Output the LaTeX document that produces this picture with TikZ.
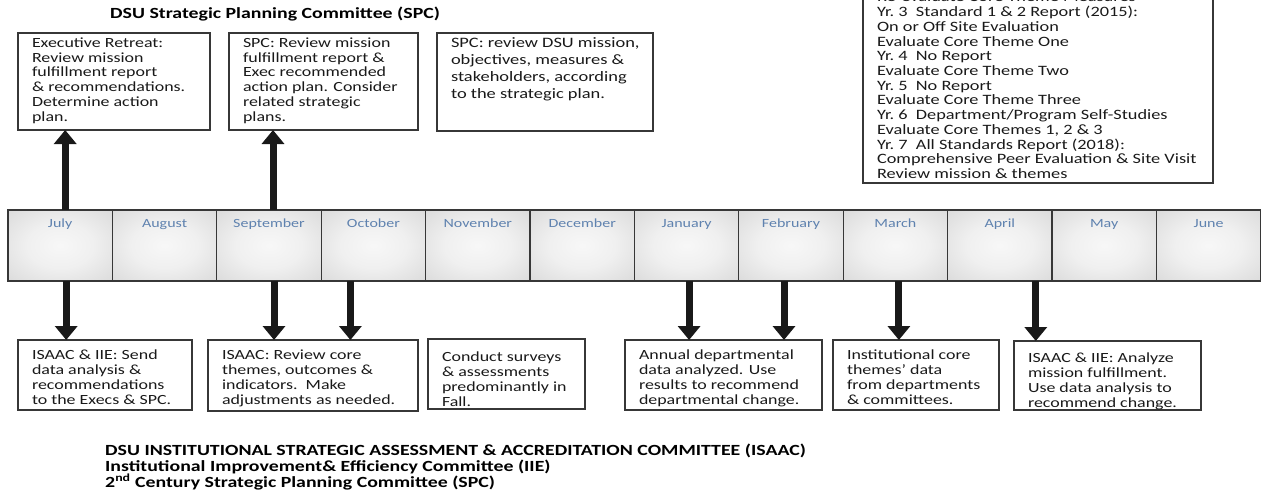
\documentclass[tikz,border=0pt]{standalone}
\usepackage{fontspec}
\setmainfont[FakeStretch=1.28]{Carlito}
\usetikzlibrary{arrows.meta}
\definecolor{monthblue}{RGB}{95,130,175}
\definecolor{edgec}{RGB}{55,55,55}
\definecolor{ink}{RGB}{25,25,25}
\pgfdeclareradialshading{monthshade}{\pgfpoint{0bp}{0bp}}{color(0bp)=(white!97!black); color(16bp)=(white!94!black); color(50bp)=(white!80!black); color(72bp)=(white!75!black)}
\newcommand\boxtxt[4]{\parbox[b][#1][t]{#2}{\vspace*{#3}\noindent\hspace*{14pt}\begin{tabular}[t]{@{}l@{}}#4\end{tabular}}}
\tikzset{
  infobox/.style={draw=edgec, line width=1.5pt, inner sep=0pt, outer sep=0pt, anchor=north west, text=ink},
  txta/.style={font=\fontsize{14pt}{14.8pt}\selectfont},
  txtb/.style={font=\fontsize{14pt}{15pt}\selectfont},
  monthbox/.style={draw=edgec, line width=1.3pt, shade, shading=monthshade, inner sep=0pt, outer sep=0pt, anchor=north west, text=monthblue, font=\fontsize{12.5pt}{14pt}\selectfont},
  bigarrow/.style={draw=ink, line width=7pt, -{Triangle[width=22pt,length=14pt]}},
  titletext/.style={inner sep=0pt, anchor=base west, text=black}
}
\begin{document}
\begin{tikzpicture}[x=1pt,y=-1pt]
\useasboundingbox (0,0) rectangle (1261,491);

% title top
\node[titletext, font=\fontsize{15.5pt}{17pt}\selectfont\bfseries] (toptitle) at (110,18) {DSU Strategic Planning Committee (SPC)};

% top boxes
\node[infobox, txta] (t1) at (18,33) {\boxtxt{97pt}{192pt}{4pt}{Executive Retreat:\\ Review mission\\ fulfillment report\\ \& recommendations.\\ Determine action\\ plan.}};
\node[infobox, txta] (t2) at (229,33) {\boxtxt{97pt}{189pt}{4pt}{SPC: Review mission\\ fulfillment report \&\\ Exec recommended\\ action plan. Consider\\ related strategic\\ plans.}};
\node[infobox, font=\fontsize{14.4pt}{17pt}\selectfont] (t3) at (437,33) {\boxtxt{98pt}{216pt}{2.6pt}{SPC: review DSU mission,\\ objectives, measures \&\\ stakeholders, according\\ to the strategic plan.}};

\begin{scope}
\clip (0,0) rectangle (1261,491);
\node[infobox, font=\fontsize{14.3pt}{14.7pt}\selectfont] (t4) at (863,-16) {\boxtxt{199pt}{350pt}{7.5pt}{Re-evaluate Core Theme Measures\\ Yr.~3~~Standard 1 \& 2 Report (2015):\\ On or Off Site Evaluation\\ Evaluate Core Theme One\\ Yr.~4~~No Report\\ Evaluate Core Theme Two\\ Yr.~5~~No Report\\ Evaluate Core Theme Three\\ Yr.~6~~Department/Program Self-Studies\\ Evaluate Core Themes 1, 2 \& 3\\ Yr.~7~~All Standards Report (2018):\\ Comprehensive Peer Evaluation \& Site Visit\\ Review mission \& themes}};
\end{scope}

% months
\foreach \m [count=\i] in {July,August,September,October,November,December,January,February,March,April,May,June}{
  \node[monthbox] (m\i) at ({8+104.4*(\i-1)},210) {\parbox[b][71pt][t]{104.4pt}{\vspace*{7.5pt}\centering\rule{0pt}{10pt}\m\par}};
}

% bottom boxes
\node[infobox, txtb] (ba) at (18,340) {\boxtxt{70pt}{174pt}{9pt}{ISAAC \& IIE: Send\\ data analysis \&\\ recommendations\\ to the Execs \& SPC.}};
\node[infobox, txtb] (bb) at (208,340) {\boxtxt{71pt}{210pt}{9pt}{ISAAC: Review core\\ themes, outcomes \&\\ indicators.~~Make\\ adjustments as needed.}};
\node[infobox, txtb] (bc) at (428,339) {\boxtxt{70pt}{157pt}{12pt}{Conduct surveys\\ \& assessments\\ predominantly in\\ Fall.}};
\node[infobox, txtb] (bd) at (625,340) {\boxtxt{70pt}{197pt}{9pt}{Annual departmental\\ data analyzed. Use\\ results to recommend\\ departmental change.}};
\node[infobox, txtb] (be) at (833,340) {\boxtxt{70pt}{166pt}{9pt}{Institutional core\\ themes’ data\\ from departments\\ \& committees.}};
\node[infobox, txtb] (bf) at (1014,341) {\boxtxt{69pt}{187pt}{11pt}{ISAAC \& IIE: Analyze\\ mission fulfillment.\\ Use data analysis to\\ recommend change.}};

% up arrows
\coordinate (u1) at ([xshift=5pt]m1.north);
\coordinate (u3) at ([xshift=4pt]m3.north);
\draw[bigarrow] (u1) -- (u1 |- t1.south);
\draw[bigarrow] (u3) -- (u3 |- t2.south);

% down arrows
\coordinate (d1) at ([xshift=6pt]m1.south);
\coordinate (d3) at ([xshift=5pt]m3.south);
\coordinate (d4) at ([xshift=-23pt]m4.south);
\coordinate (d7) at ([xshift=2.5pt]m7.south);
\coordinate (d8) at ([xshift=-7pt]m8.south);
\coordinate (d9) at ([xshift=3.5pt]m9.south);
\coordinate (d10) at ([xshift=36pt]m10.south);
\draw[bigarrow] (d1) -- (d1 |- ba.north);
\draw[bigarrow] (d3) -- (d3 |- bb.north);
\draw[bigarrow] (d4) -- (d4 |- bb.north);
\draw[bigarrow] (d7) -- (d7 |- bd.north);
\draw[bigarrow] (d8) -- (d8 |- bd.north);
\draw[bigarrow] (d9) -- (d9 |- be.north);
\draw[bigarrow] (d10) -- (d10 |- bf.north);

% bottom title
\node[titletext, font=\fontsize{15.5pt}{16pt}\selectfont\bfseries] (bottomtitle) at (105,455) {\parbox[t]{900pt}{DSU INSTITUTIONAL STRATEGIC ASSESSMENT \& ACCREDITATION COMMITTEE (ISAAC)\\ Institutional Improvement\& Efficiency Committee (IIE)\\ 2\textsuperscript{nd} Century Strategic Planning Committee (SPC)}};
\end{tikzpicture}
\end{document}
